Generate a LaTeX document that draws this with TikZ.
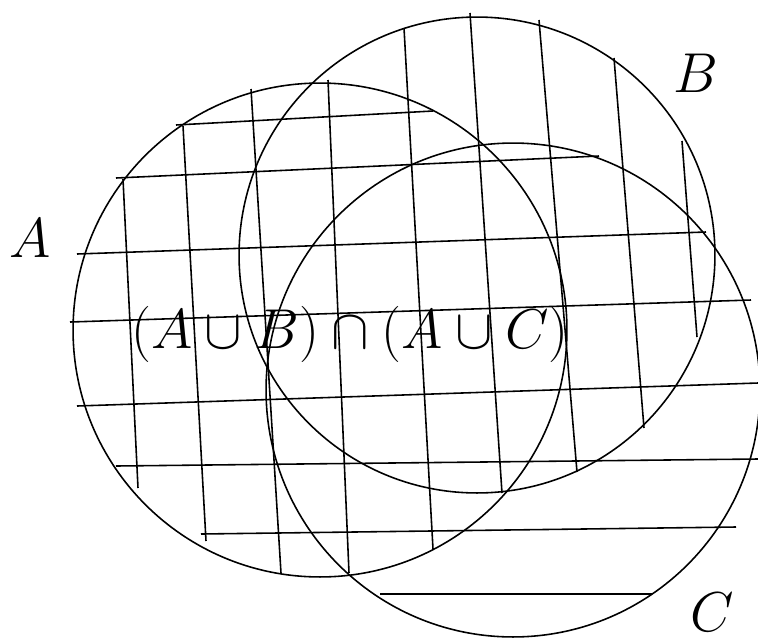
\RequirePackage{fix-cm}
\documentclass[tikz,border=0pt]{standalone}
\usepackage{tikz}
\usetikzlibrary{positioning}

\begin{document}
\begin{tikzpicture}[x=0.02cm, y=-0.02cm, line width=0.9pt,
    setlabel/.style={inner sep=0pt, font=\fontsize{32}{38}\selectfont}]
    \useasboundingbox (0,0) rectangle (758,637);
    % the three sets
    \draw (320,330) circle (4.94cm);
    \draw (477,255) circle (4.76cm);
    \draw (513,390) circle (4.94cm);
    % hatching of A u B
    \foreach \xa/\ya/\xb/\yb in {123/179/138/488, 183/126/206/541, 251/89/281/573,
        328/80/349/573, 404/28/433/549, 470/13/502/493, 539/20/577/472,
        614/58/644/428, 682/141/697/337}
        \draw (\xa,\ya) -- (\xb,\yb);
    % hatching of A u C
    \foreach \xa/\ya/\xb/\yb in {176/125/433/111, 116/178/599/156, 77/254/706/232,
        70/322/751/300, 77/406/758/383, 116/466/758/459, 201/534/736/527,
        380/594/652/594}
        \draw (\xa,\ya) -- (\xb,\yb);
    % labels
    \node[setlabel] (labA) at (30,238) {$A$};
    \node[setlabel] (labB) at (696,73) {$B$};
    \node[setlabel] (labC) at (712,612) {$C$};
    \node[setlabel] (result) at (350,334) {$(A\cup B)\cap(A\cup C)$};
\end{tikzpicture}
\end{document}
